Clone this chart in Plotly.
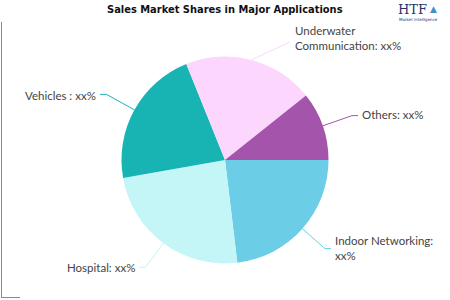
import numpy as np
import plotly.graph_objects as go

W, H = 450, 300

# ---- data ----
categories = ["Indoor Networking", "Hospital", "Vehicles", "Underwater Communication", "Others"]
shares = [23.1, 24.1, 21.7, 20.4, 10.7]
label_texts = ["Indoor Networking:<br>xx%", "Hospital: xx%", "Vehicles : xx%",
               "Underwater<br>Communication: xx%", "Others: xx%"]
colors = ["#6ccde6", "#c4f6f8", "#18b4b4", "#fdd6fd", "#a454aa"]
title_text = "Sales Market Shares in Major Applications"

# ---- pie geometry (pixels) ----
cx, cy, R = 225.0, 160.0, 103.5
rotation = 90  # first slice starts at 3 o'clock, clockwise

def px(x):
    return x / W

def py(y):
    return 1 - y / H

fig = go.Figure(go.Pie(
    labels=categories, values=shares, sort=False, direction="clockwise",
    rotation=rotation, textinfo="none", hoverinfo="skip",
    marker=dict(colors=colors, line=dict(width=0)),
    domain=dict(x=[px(cx - R), px(cx + R)], y=[py(cy + R), py(cy - R)]),
    showlegend=False,
))

# mid angles (clockwise from 3 o'clock), derived from data
vals = np.array(shares, dtype=float)
cum = np.cumsum(vals) / vals.sum() * 360
start = np.concatenate([[0], cum[:-1]])
mid = (start + cum) / 2

# label placement: (side, elbow extension, text x, text y)
label_layout = [
    ("left", 30, 333, 248),
    ("right", 30, 137, 267),
    ("right", 32, 98, 95),
    ("left", None, 293, 38),
    ("left", 31, 360, 114),
]

shapes = []
annotations = []
for i, (side, ext, tx, ty) in enumerate(label_layout):
    a = np.deg2rad(mid[i])
    sx, sy = cx + R * np.cos(a), cy + R * np.sin(a)
    pts = [(sx, sy)]
    if ext is not None:
        ex, ey = cx + (R + ext) * np.cos(a), cy + (R + ext) * np.sin(a)
        pts.append((ex, ey))
        endx = tx - 2 if side == "left" else tx + 2
        pts.append((endx, ey))
    else:
        pts.append((tx - 3, ty + 4))
    path = "M " + " L ".join(f"{px(x):.5f},{py(y):.5f}" for x, y in pts)
    shapes.append(dict(type="path", path=path, xref="paper", yref="paper",
                       line=dict(color=colors[i], width=1)))
    annotations.append(dict(
        text=label_texts[i], x=px(tx), y=py(ty), xref="paper", yref="paper",
        xanchor="left" if side == "left" else "right", yanchor="middle",
        align="left", showarrow=False,
        font=dict(family="Lato, Open Sans, sans-serif", size=11.5, color="#444444"),
    ))

# title
annotations.append(dict(
    text=f"<b>{title_text}</b>", x=px(225), y=py(9), xref="paper", yref="paper",
    xanchor="center", yanchor="middle", showarrow=False,
    font=dict(family="Liberation Sans Narrow, DejaVu Sans Condensed, sans-serif",
              size=11, color="#111111"),
))

# logo (approximation)
annotations.append(dict(
    text="HTF", x=px(396), y=py(10), xref="paper", yref="paper",
    xanchor="left", yanchor="middle", showarrow=False,
    font=dict(family="DejaVu Serif, serif", size=13, color="#2a3565"),
))
annotations.append(dict(
    text="▲", x=px(433), y=py(9), xref="paper", yref="paper",
    xanchor="center", yanchor="middle", showarrow=False,
    font=dict(family="DejaVu Sans", size=9, color="#3f8fd0"),
))
annotations.append(dict(
    text="Market Intelligence", x=px(418), y=py(20), xref="paper", yref="paper",
    xanchor="center", yanchor="middle", showarrow=False,
    font=dict(family="DejaVu Sans", size=4, color="#2a3565"),
))

# frame lines at left / bottom
shapes.append(dict(type="line", xref="paper", yref="paper",
                   x0=px(1.5), y0=py(22), x1=px(1.5), y1=py(297.5),
                   line=dict(color="#888888", width=1)))
shapes.append(dict(type="line", xref="paper", yref="paper",
                   x0=px(1), y0=py(297.5), x1=px(20), y1=py(297.5),
                   line=dict(color="#888888", width=1)))

fig.update_layout(
    width=W, height=H, margin=dict(l=0, r=0, t=0, b=0),
    paper_bgcolor="white", plot_bgcolor="white",
    shapes=shapes, annotations=annotations,
)

fig.write_html("out.html", config={"displayModeBar": False})
